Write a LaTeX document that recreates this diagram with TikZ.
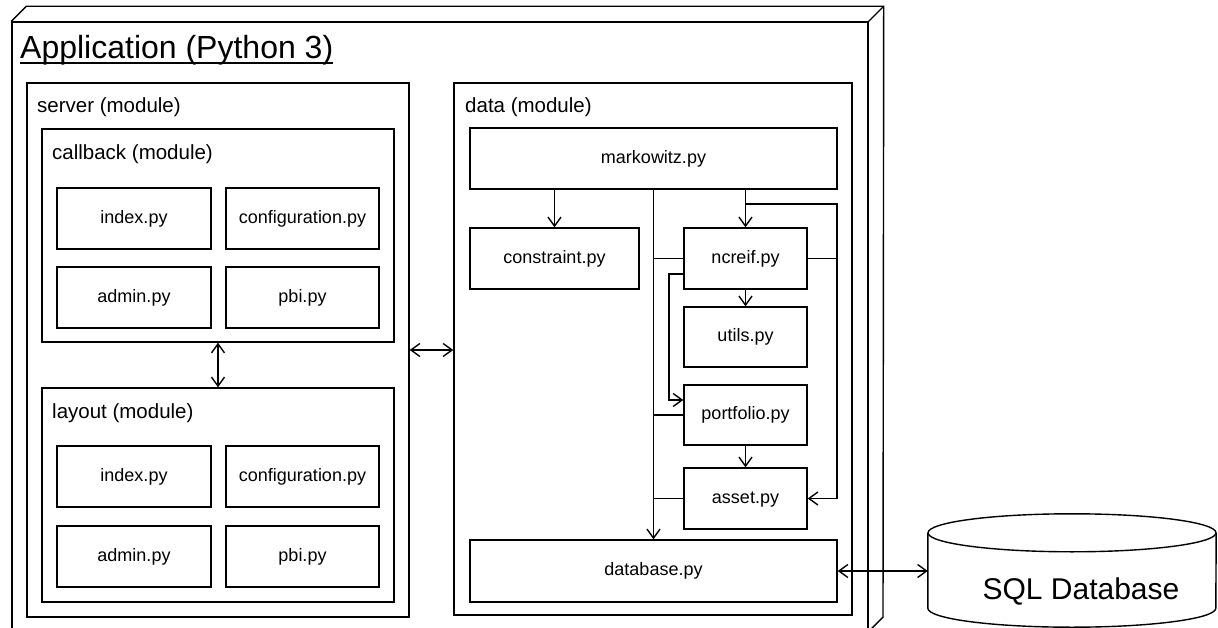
\documentclass[tikz,border=0pt]{standalone}
\usepackage{fontspec}
\setmainfont{Liberation Sans}
\usetikzlibrary{arrows.meta,calc}
\begin{document}
\begin{tikzpicture}[x=1pt,y=-1pt,
  conn/.style={line width=1.4pt},
  arr/.style={conn,-{Straight Barb[length=9pt,width=13pt]}},
  biarr/.style={conn,{Straight Barb[length=9pt,width=13pt]}-{Straight Barb[length=9pt,width=13pt]}},
  container/.style={draw,line width=1.4pt,inner sep=0pt},
  filebox/.style={draw,line width=1.4pt,inner sep=0pt,minimum height=61pt,
    font=\fontsize{18}{21}\selectfont,text height=13pt,text depth=3.8pt},
  modlabel/.style={anchor=base west,inner sep=0pt,font=\fontsize{20.5}{24}\selectfont}]
\clip (0,0) rectangle (1218,628);

% application node (3D box)
\node[container,minimum width=856pt,minimum height=620pt] (app) at (440,332) {};
\draw[conn] (app.north west) -- ++(15,-15) -- ($(app.north east)+(15,-15)$) -- (883,617) -- (868,632);
\draw[conn] (app.north east) -- ++(15,-15);
\node[anchor=base west,inner sep=0pt,font=\fontsize{32}{38}\selectfont] (title) at (20,59) {Application (Python 3)};
\draw[line width=1.4pt] ($(title.base west)+(0,4)$) -- ($(title.base east)+(0,4)$);

% server module
\node[container,minimum width=382pt,minimum height=534pt] (server) at (218,350) {};
\node[modlabel] (serverlbl) at (37,113) {server (module)};
\node[container,minimum width=352pt,minimum height=213pt] (callback) at (218,235.5) {};
\node[modlabel] (callbacklbl) at (52,160) {callback (module)};
\node[filebox,minimum width=154pt] (cbindex) at (134,218.5) {index.py};
\node[filebox,minimum width=153pt] (cbconf) at (302.5,218.5) {configuration.py};
\node[filebox,minimum width=154pt] (cbadmin) at (134,297.5) {admin.py};
\node[filebox,minimum width=153pt] (cbpbi) at (302.5,297.5) {pbi.py};

\node[container,minimum width=352pt,minimum height=214pt] (layout) at (218,495) {};
\node[modlabel] (layoutlbl) at (52,418) {layout (module)};
\node[filebox,minimum width=154pt] (lyindex) at (134,476.5) {index.py};
\node[filebox,minimum width=153pt] (lyconf) at (302.5,476.5) {configuration.py};
\node[filebox,minimum width=154pt] (lyadmin) at (134,556.5) {admin.py};
\node[filebox,minimum width=153pt] (lypbi) at (302.5,556.5) {pbi.py};

% data module
\node[container,minimum width=398pt,minimum height=532pt] (data) at (653,349) {};
\node[modlabel] (datalbl) at (465,113) {data (module)};
\node[filebox,minimum width=367pt] (markowitz) at (653.5,158.5) {markowitz.py};
\node[filebox,minimum width=169pt] (constraint) at (554.5,258.5) {constraint.py};
\node[filebox,minimum width=123pt] (ncreif) at (745.5,258.5) {ncreif.py};
\node[filebox,minimum width=123pt,minimum height=60pt] (utils) at (745.5,337) {utils.py};
\node[filebox,minimum width=123pt,minimum height=60pt] (portfolio) at (745.5,415) {portfolio.py};
\node[filebox,minimum width=123pt] (asset) at (745.5,498.5) {asset.py};
\node[filebox,minimum width=367pt,minimum height=62pt] (database) at (653.5,571) {database.py};

% SQL database cylinder
\node[inner sep=0pt,minimum width=288pt,minimum height=75pt] (sql) at (1072,570.5) {};
\draw[conn,fill=white] (sql.north west) -- (sql.south west)
  arc[start angle=180,end angle=360,x radius=144pt,y radius=19pt] -- (sql.north east);
\draw[conn] (sql.north) ellipse[x radius=144pt,y radius=19pt];
\node[anchor=base,inner sep=0pt,font=\fontsize{30}{34}\selectfont] (sqltxt) at (1081,599) {SQL Database};

% connectors
\coordinate (rc) at (837,204);
\coordinate (jn) at (ncreif.north |- rc);
\coordinate (lp) at (669,274);
\draw[arr] (markowitz.south -| constraint.north) -- (constraint.north);
\draw[arr] (markowitz.south) -- (database.north);
\draw[arr] (markowitz.south -| ncreif.north) -- (ncreif.north);
\draw[arr] (jn) -- (rc) |- (asset.east);
\draw[conn] (ncreif.east) -- (ncreif.east -| rc);
\draw[conn] (ncreif.west) -- (ncreif.west -| markowitz.south);
\draw[conn] (portfolio.west) -- (portfolio.west -| markowitz.south);
\draw[conn] (asset.west) -- (asset.west -| markowitz.south);
\draw[arr] (ncreif.west |- lp) -- (lp) |- ($(portfolio.west)+(0,-15)$);
\draw[arr] (ncreif.south) -- (utils.north);
\draw[arr] (portfolio.south) -- (asset.north);
\draw[biarr] (database.east) -- (database.east -| sql.west);
\draw[biarr] (server.east) -- (server.east -| data.west);
\draw[biarr] (callback.south) -- (layout.north);
\end{tikzpicture}
\end{document}
